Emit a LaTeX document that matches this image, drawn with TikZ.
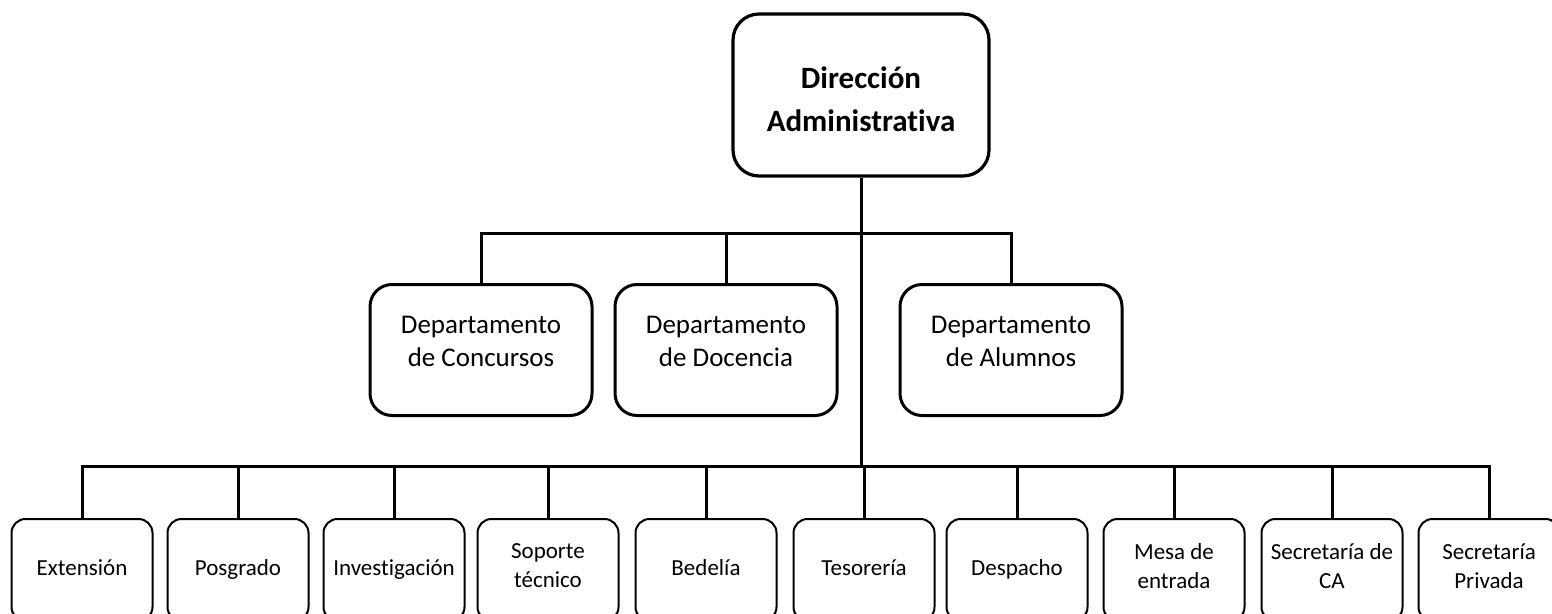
\documentclass[tikz,border=0pt]{standalone}
\usepackage{fontspec}
\setmainfont{Carlito}[Ligatures=NoCommon]

\begin{document}
\begin{tikzpicture}[x=1pt,y=-1pt,
    jefe/.style={draw,line width=3.2pt,rounded corners=26pt,align=center,
      minimum width=256pt,minimum height=162pt,
      font=\bfseries\fontsize{31}{43}\selectfont},
    depto/.style={draw,line width=3pt,rounded corners=22pt,align=center,
      minimum width=222pt,minimum height=131pt,
      font=\fontsize{27}{33}\selectfont,
      execute at end node={\rule[-18pt]{0pt}{1pt}}},
    area/.style={draw,line width=2pt,rounded corners=14pt,align=center,
      minimum width=141pt,minimum height=102pt,anchor=north,
      font=\fontsize{23}{29}\selectfont,
      execute at end node=\strut},
    linea/.style={line width=3pt}]
    \useasboundingbox (0,0) rectangle (1552,613);
    \node[jefe] (dir) at (861,95) {\rule{0pt}{31pt}Dirección\\Administrativa};
    \node[depto] (conc) at (481,350) {Departamento\\de Concursos};
    \node[depto] (doc) at (726,350) {Departamento\\de Docencia};
    \node[depto] (alum) at (1011,350) {Departamento\\de Alumnos};
    \coordinate (bus1) at (861,233);
    \coordinate (bus2) at (861,466);
    \foreach \nom/\cx/\txt in {ext/82/Extensión, pos/238/Posgrado,
        inv/394/Investigación, sop/548/{Soporte\\técnico}, bed/706/Bedelía,
        tes/864/Tesorería, des/1017/Despacho, mes/1174/{Mesa de\\entrada},
        sca/1332/{Secretaría de\\CA}, spr/1489/{Secretaría\\Privada}}
      \node[area] (\nom) at (\cx,518) {\txt};
    \draw[linea] (dir.south) -- (bus2);
    \draw[linea] (conc.north) |- (bus1) -| (alum.north);
    \draw[linea] (doc.north) -- (doc.north |- bus1);
    \draw[linea] (ext.north) |- (bus2) -| (spr.north);
    \foreach \nom in {pos,inv,sop,bed,tes,des,mes,sca}
      \draw[linea] (\nom.north) -- (\nom.north |- bus2);
\end{tikzpicture}
\end{document}
